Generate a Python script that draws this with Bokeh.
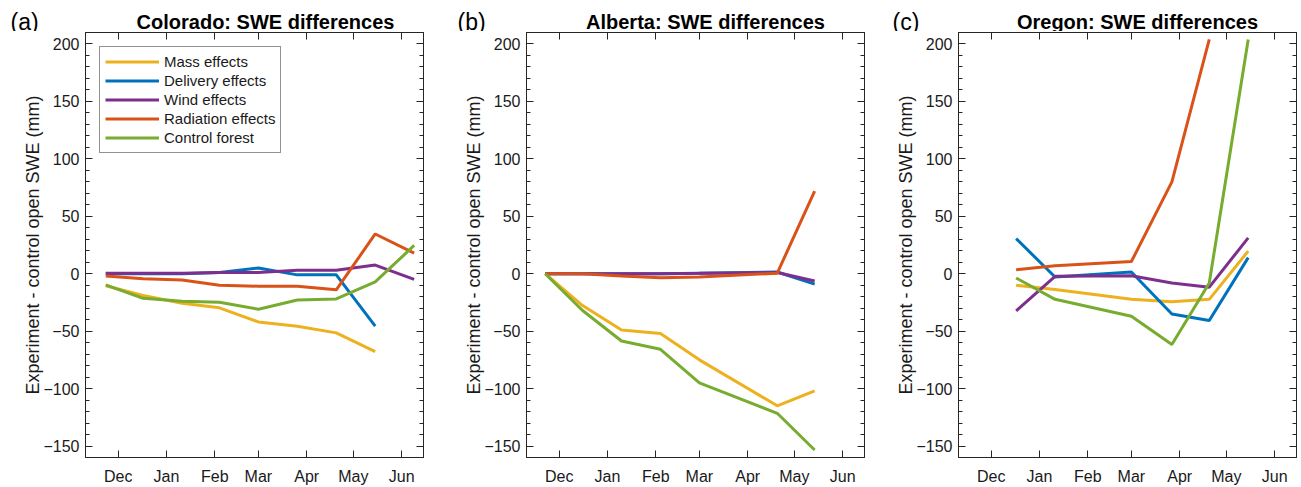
import pandas as pd
from bokeh.plotting import figure
from bokeh.models import (Range1d, FixedTicker, DatetimeTickFormatter, LinearAxis,
                          DatetimeAxis, Label, CustomJSTickFormatter)
from bokeh.layouts import row, column
from bokeh.embed import file_html
from bokeh.resources import INLINE

NaN = float("nan")

series_names = ["Mass effects", "Delivery effects", "Wind effects",
                "Radiation effects", "Control forest"]
colors = ["#EDB120", "#0072BD", "#7E2F8E", "#D95319", "#77AC30"]

month_labels = ["Dec", "Jan", "Feb", "Mar", "Apr", "May", "Jun"]
month_starts = ["2017-12-01", "2018-01-01", "2018-02-01", "2018-03-01",
                "2018-04-01", "2018-05-01", "2018-06-01"]
y_ticks = [-150, -100, -50, 0, 50, 100, 150, 200]

# (a) Colorado
colorado_dates = ["2017-11-23", "2017-12-17", "2018-01-11", "2018-02-04", "2018-03-01",
                  "2018-03-26", "2018-04-20", "2018-05-15", "2018-06-09"]
colorado_mass = [-10.5, -19, -25.7, -29.7, -42, -45.7, -51.5, -67.8, NaN]
colorado_delivery = [0, 0, 0, 1, 5, -1, -1, -45.7, NaN]
colorado_wind = [0.5, 0.5, 0.5, 1, 1, 3, 3, 7.5, -5]
colorado_radiation = [-2, -4.3, -5.4, -10, -10.9, -10.9, -14, 34.6, 18]
colorado_forest = [-9.7, -21.4, -24, -24.9, -30.9, -22.9, -22, -7.1, 24.6]

# (b) Alberta
alberta_dates = ["2017-11-22", "2017-12-16", "2018-01-10", "2018-02-04", "2018-03-01",
                 "2018-04-20", "2018-05-14"]
alberta_mass = [0, -27.7, -49, -52, -75, -115, -102]
alberta_delivery = [0, 0, 0, 0, 0.5, 1.5, -9]
alberta_wind = [0, 0, 0, 0, 0.3, 1, -6.3]
alberta_radiation = [0, 0, -2, -3.5, -2.8, 0.5, 72]
alberta_forest = [0, -32, -58.6, -65.8, -95, -121.5, -153.5]

# (c) Oregon
oregon_dates = ["2017-12-17", "2018-01-11", "2018-03-01", "2018-03-27", "2018-04-20",
                "2018-05-15"]
oregon_mass = [-10, -13.7, -22.3, -24.3, -22.3, 19.7]
oregon_delivery = [30.6, -2.9, 1.5, -35, -40.8, 14]
oregon_wind = [-32.3, -2.3, -1.7, -8, -11.7, 31.2]
oregon_radiation = [3.4, 6.9, 10.6, 80, 204, NaN]
oregon_forest = [-3.7, -22.3, -37.1, -61.7, -8, 204]

panel_tags = ["(a)", "(b)", "(c)"]
panel_titles = ["Colorado: SWE differences", "Alberta: SWE differences",
                "Oregon: SWE differences"]
panel_dates = [colorado_dates, alberta_dates, oregon_dates]
panel_series = [
    [colorado_mass, colorado_delivery, colorado_wind, colorado_radiation, colorado_forest],
    [alberta_mass, alberta_delivery, alberta_wind, alberta_radiation, alberta_forest],
    [oregon_mass, oregon_delivery, oregon_wind, oregon_radiation, oregon_forest],
]

FONT = "Liberation Sans"
AX = "#262626"
HEAD_H = 31
PLOT_H = 487 - HEAD_H
widths = [441, 432, 427]
right_borders = [18, 9, 4]
tag_x = [10, 457, 892]
title_x = [265, 705, 1137]

tick_ms = [int((pd.Timestamp(d) - pd.Timestamp("1970-01-01")) / pd.Timedelta("1ms"))
           for d in month_starts]
fmt = DatetimeTickFormatter(microseconds="%b", milliseconds="%b", seconds="%b",
                            minsec="%b", minutes="%b", hourmin="%b", hours="%b",
                            days="%b", months="%b", years="%b")
blank = CustomJSTickFormatter(code="return ''")


def style_axis(ax, labels=True):
    ax.axis_line_color = AX
    ax.major_tick_line_color = AX
    ax.minor_tick_line_color = AX
    ax.major_tick_out = 0
    ax.minor_tick_out = 0
    ax.major_tick_in = 7
    ax.minor_tick_in = 4
    ax.major_label_text_font = FONT
    ax.major_label_text_color = "#1a1a1a"
    if labels:
        ax.major_label_text_font_size = "16px"
    else:
        ax.formatter = blank
        ax.major_label_text_font_size = "0px"
        ax.major_label_standoff = 0


# header strip holding panel tags and titles
head = figure(width=sum(widths), height=HEAD_H, output_backend="svg",
              toolbar_location=None, title_location=None,
              x_axis_location=None, y_axis_location=None,
              x_range=Range1d(0, sum(widths)), y_range=Range1d(0, HEAD_H),
              min_border=0, min_border_left=0, min_border_right=0,
              min_border_top=0, min_border_bottom=0)
head.outline_line_color = None
head.xgrid.visible = False
head.ygrid.visible = False
head.background_fill_alpha = 0
head.border_fill_alpha = 0
for i in range(3):
    head.add_layout(Label(x=tag_x[i], y=21, x_units="canvas", y_units="canvas",
                          text=panel_tags[i], text_font=FONT,
                          text_font_size="23px", text_color="black",
                          text_baseline="alphabetic"))
    head.add_layout(Label(x=title_x[i], y=21.5, x_units="canvas", y_units="canvas",
                          text=panel_titles[i], text_font=FONT,
                          text_font_size="20px", text_font_style="bold",
                          text_color="black", text_align="center",
                          text_baseline="alphabetic"))

figs = []
for i in range(3):
    xs = pd.to_datetime(panel_dates[i])
    p = figure(width=widths[i], height=PLOT_H, output_backend="svg", toolbar_location=None,
               x_axis_type="datetime",
               x_range=Range1d(pd.Timestamp("2017-11-10"), pd.Timestamp("2018-06-15")),
               y_range=Range1d(-160, 210),
               min_border_left=85, min_border_right=right_borders[i],
               min_border_top=1, min_border_bottom=25)
    p.xgrid.visible = False
    p.ygrid.visible = False
    p.outline_line_color = AX
    p.outline_line_alpha = 1
    p.background_fill_color = "white"
    p.border_fill_color = "white"

    for name, col, y in zip(series_names, colors, panel_series[i]):
        kw = {"legend_label": name} if i == 0 else {}
        p.line(xs, y, line_color=col, line_width=3, **kw)

    yt = FixedTicker(ticks=y_ticks, minor_ticks=list(range(-160, 211, 10)))
    xt = FixedTicker(ticks=tick_ms, minor_ticks=[])

    p.yaxis.ticker = yt
    style_axis(p.yaxis[0])
    p.yaxis.major_label_standoff = 6
    p.yaxis.axis_label = "Experiment - control open SWE (mm)"
    p.yaxis.axis_label_text_font = FONT
    p.yaxis.axis_label_text_font_size = "18px"
    p.yaxis.axis_label_text_font_style = "normal"
    p.yaxis.axis_label_text_color = "#1a1a1a"
    p.yaxis.axis_label_standoff = -3

    p.xaxis.ticker = xt
    p.xaxis.formatter = fmt
    style_axis(p.xaxis[0])
    p.xaxis.minor_tick_in = 0
    p.xaxis.major_label_standoff = 10

    ry = LinearAxis(ticker=yt)
    style_axis(ry, labels=False)
    p.add_layout(ry, "right")

    tx = DatetimeAxis(ticker=xt)
    style_axis(tx, labels=False)
    tx.minor_tick_in = 0
    p.add_layout(tx, "above")

    if i == 0:
        lg = p.legend[0]
        lg.location = "top_left"
        lg.margin = 14
        lg.padding = 5
        lg.spacing = 0
        lg.label_height = 19
        lg.glyph_height = 19
        lg.glyph_width = 54
        lg.label_standoff = 5
        lg.label_text_font = FONT
        lg.label_text_font_size = "15px"
        lg.label_text_color = "#1a1a1a"
        lg.border_line_color = AX
        lg.border_line_width = 1
        lg.background_fill_alpha = 1
    figs.append(p)

plots = row(*figs, spacing=0)
layout = column(head, plots, spacing=0)
open("out.html", "w").write(file_html(layout, INLINE))
